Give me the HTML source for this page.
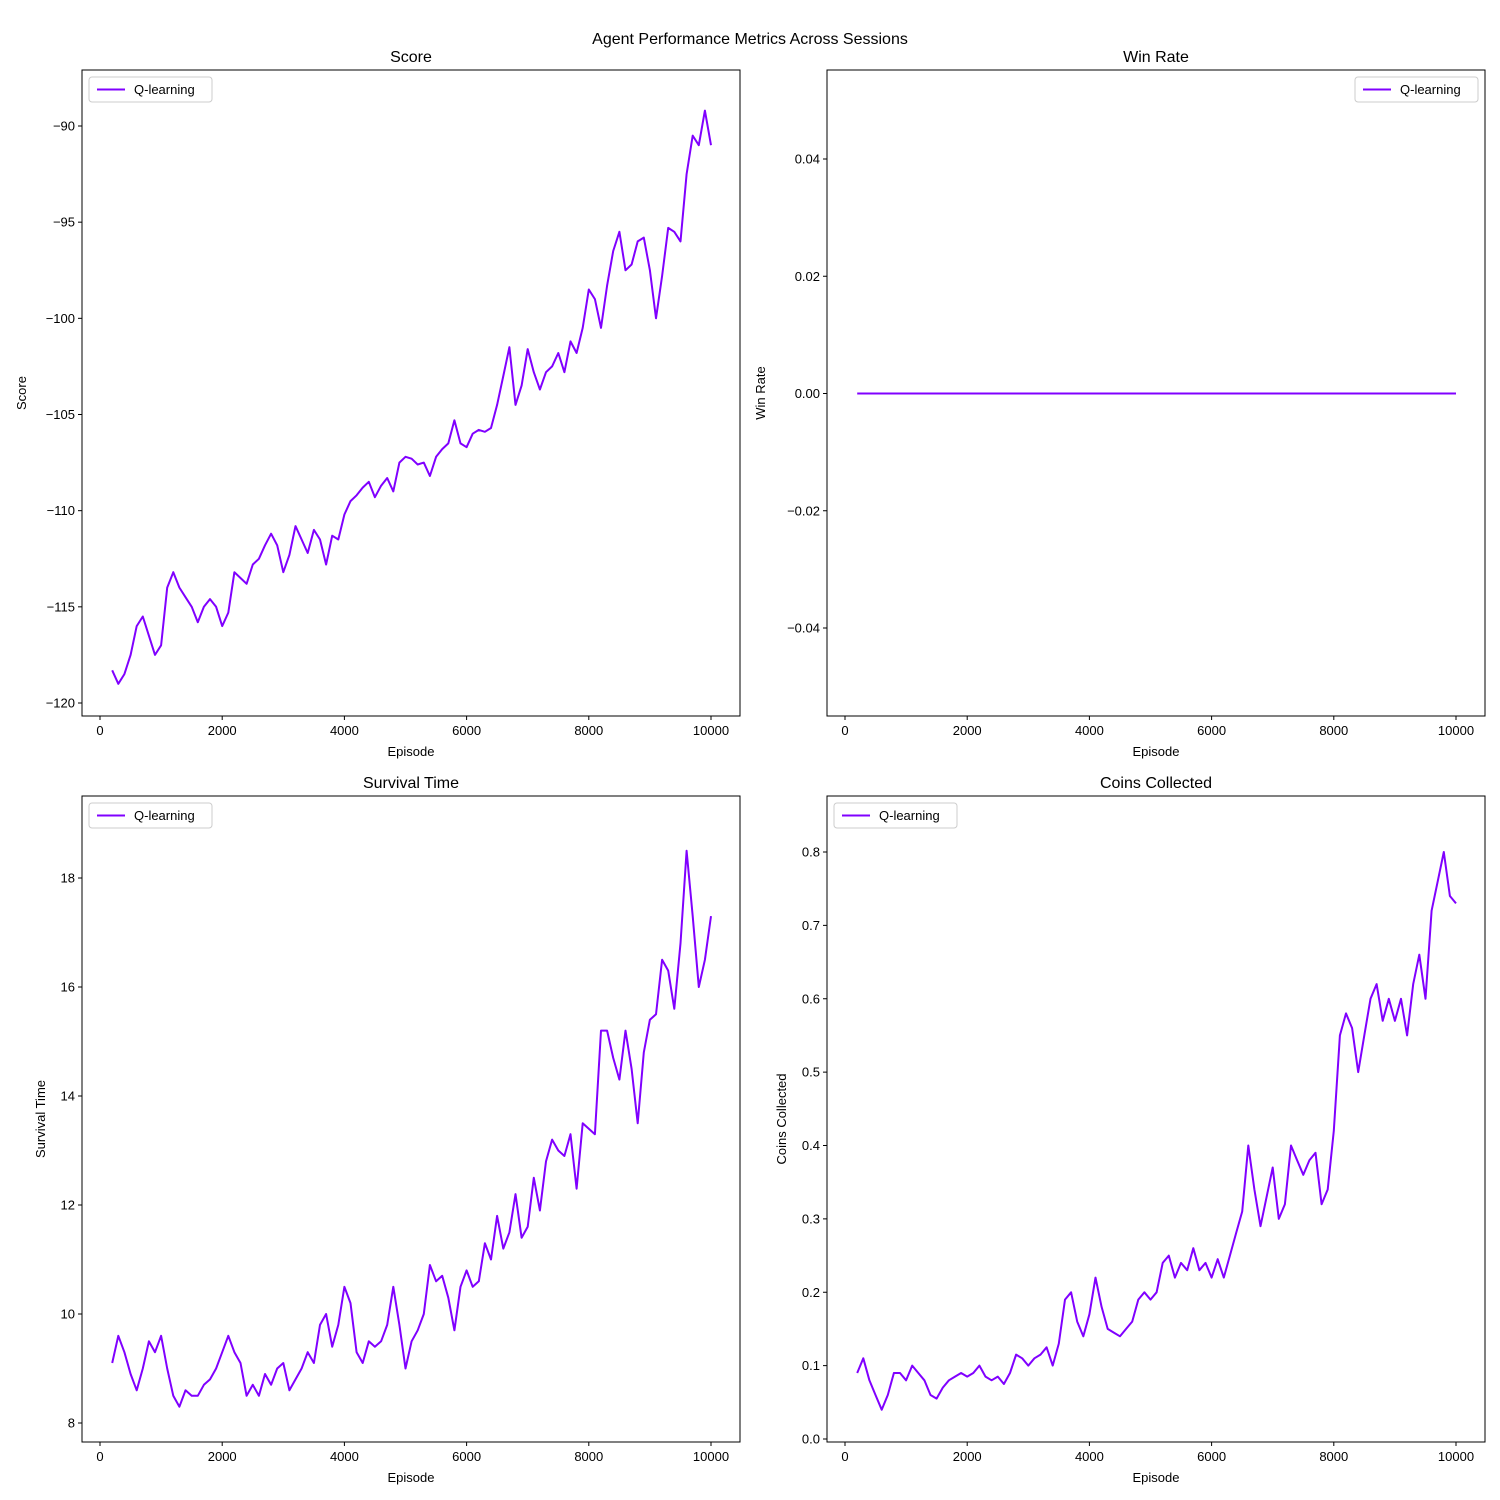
<!DOCTYPE html>
<html><head><meta charset="utf-8">
<style>
body{margin:0;background:#fff;}
svg{display:block;font-family:"Liberation Sans","DejaVu Sans",sans-serif;}
</style></head>
<body>
<svg id="fig" width="1500" height="1500" viewBox="0 0 1500 1500">
<rect width="1500" height="1500" fill="#fff"/>
<text x="750" y="44" text-anchor="middle" font-size="16">Agent Performance Metrics Across Sessions</text>
</svg>
<script>
const episodes = [200,300,400,500,600,700,800,900,1000,1100,1200,1300,1400,1500,1600,1700,1800,1900,2000,2100,2200,2300,2400,2500,2600,2700,2800,2900,3000,3100,3200,3300,3400,3500,3600,3700,3800,3900,4000,4100,4200,4300,4400,4500,4600,4700,4800,4900,5000,5100,5200,5300,5400,5500,5600,5700,5800,5900,6000,6100,6200,6300,6400,6500,6600,6700,6800,6900,7000,7100,7200,7300,7400,7500,7600,7700,7800,7900,8000,8100,8200,8300,8400,8500,8600,8700,8800,8900,9000,9100,9200,9300,9400,9500,9600,9700,9800,9900,10000];
const scoreValues = [-118.3,-119,-118.5,-117.5,-116,-115.5,-116.5,-117.5,-117,-114,-113.2,-114,-114.5,-115,-115.8,-115,-114.6,-115,-116,-115.3,-113.2,-113.5,-113.8,-112.8,-112.5,-111.8,-111.2,-111.8,-113.2,-112.3,-110.8,-111.5,-112.2,-111,-111.5,-112.8,-111.3,-111.5,-110.2,-109.5,-109.2,-108.8,-108.5,-109.3,-108.7,-108.3,-109,-107.5,-107.2,-107.3,-107.6,-107.5,-108.2,-107.2,-106.8,-106.5,-105.3,-106.5,-106.7,-106,-105.8,-105.9,-105.7,-104.5,-103,-101.5,-104.5,-103.5,-101.6,-102.8,-103.7,-102.8,-102.5,-101.8,-102.8,-101.2,-101.8,-100.5,-98.5,-99,-100.5,-98.3,-96.5,-95.5,-97.5,-97.2,-96,-95.8,-97.5,-100,-97.8,-95.3,-95.5,-96,-92.5,-90.5,-91,-89.2,-91];
const winEpisodes = [200,10000];
const winValues = [0,0];
const survivalValues = [9.1,9.6,9.3,8.9,8.6,9.0,9.5,9.3,9.6,9.0,8.5,8.3,8.6,8.5,8.5,8.7,8.8,9.0,9.3,9.6,9.3,9.1,8.5,8.7,8.5,8.9,8.7,9.0,9.1,8.6,8.8,9.0,9.3,9.1,9.8,10.0,9.4,9.8,10.5,10.2,9.3,9.1,9.5,9.4,9.5,9.8,10.5,9.8,9.0,9.5,9.7,10.0,10.9,10.6,10.7,10.3,9.7,10.5,10.8,10.5,10.6,11.3,11.0,11.8,11.2,11.5,12.2,11.4,11.6,12.5,11.9,12.8,13.2,13.0,12.9,13.3,12.3,13.5,13.4,13.3,15.2,15.2,14.7,14.3,15.2,14.5,13.5,14.8,15.4,15.5,16.5,16.3,15.6,16.8,18.5,17.3,16.0,16.5,17.3];
const coinValues = [0.09,0.11,0.08,0.06,0.04,0.06,0.09,0.09,0.08,0.10,0.09,0.08,0.06,0.055,0.07,0.08,0.085,0.09,0.085,0.09,0.1,0.085,0.08,0.085,0.075,0.09,0.115,0.11,0.10,0.11,0.115,0.125,0.10,0.13,0.19,0.20,0.16,0.14,0.17,0.22,0.18,0.15,0.145,0.14,0.15,0.16,0.19,0.20,0.19,0.20,0.24,0.25,0.22,0.24,0.23,0.26,0.23,0.24,0.22,0.245,0.22,0.25,0.28,0.31,0.40,0.34,0.29,0.33,0.37,0.30,0.32,0.40,0.38,0.36,0.38,0.39,0.32,0.34,0.42,0.55,0.58,0.56,0.50,0.55,0.60,0.62,0.57,0.60,0.57,0.60,0.55,0.62,0.66,0.60,0.72,0.76,0.80,0.74,0.73];
const xTicks = [0,2000,4000,6000,8000,10000];
const scoreTicks = [-120,-115,-110,-105,-100,-95,-90];
const winTicks = [-0.04,-0.02,0,0.02,0.04];
const survivalTicks = [8,10,12,14,16,18];
const coinTicks = [0,0.1,0.2,0.3,0.4,0.5,0.6,0.7,0.8];

const NS="http://www.w3.org/2000/svg";
const svg=document.getElementById('fig');
function mk(tag,attrs,parent){const e=document.createElementNS(NS,tag);for(const k in attrs)e.setAttribute(k,attrs[k]);(parent||svg).appendChild(e);return e;}

function panel(o){
  const g=mk('g',{});
  
  
  const X=v=>o.x0px+(v-0)*(o.x1px-o.x0px)/10000;
  const Y=v=>o.ya.px+(v-o.ya.v)*(o.yb.px-o.ya.px)/(o.yb.v-o.ya.v);
  const pts=o.xs.map((e,i)=>X(e).toFixed(1)+','+Y(o.ys[i]).toFixed(1)).join(' ');
  const line=mk('polyline',{points:pts,fill:'none',stroke:'#8000ff','stroke-width':2,'stroke-linejoin':'round'},g);
  
  
  const fr=mk('rect',{x:o.L,y:o.T,width:o.R-o.L,height:o.B-o.T,fill:'none',stroke:'#000','stroke-width':1},g);
  
  
  xTicks.forEach(t=>{
    const x=X(t);
    mk('line',{x1:x,x2:x,y1:o.B,y2:o.B+4,stroke:'#000'},g);
    const tx=mk('text',{x:x,y:o.B+19,'text-anchor':'middle','font-size':13},g);
    tx.textContent=t;
    
    
  });
  o.yticks.forEach(t=>{
    const y=Y(t);
    mk('line',{x1:o.L-4,x2:o.L,y1:y,y2:y,stroke:'#000'},g);
    const tx=mk('text',{x:o.L-7,y:y+4.5,'text-anchor':'end','font-size':13},g);
    tx.textContent=o.fmt(t);
    
    
  });
  const tt=mk('text',{x:(o.L+o.R)/2,y:o.T-8,'text-anchor':'middle','font-size':16},g);
  tt.textContent=o.title;
  
  
  const xl=mk('text',{x:(o.L+o.R)/2,y:o.B+40,'text-anchor':'middle','font-size':13},g);
  xl.textContent='Episode';
  
  
  const cy=(o.T+o.B)/2;
  const yl=mk('text',{x:o.ylx,y:cy,'text-anchor':'middle','font-size':13,transform:`rotate(-90 ${o.ylx} ${cy})`},g);
  yl.textContent=o.title;
  
  
  const lx=o.legRight?o.R-130:o.L+7, ly=o.T+7;
  const lg=mk('g',{},g);
  
  
  mk('rect',{x:lx,y:ly,width:123,height:25,rx:3,fill:'#fff',stroke:'#ccc'},lg);
  mk('line',{x1:lx+8,x2:lx+36,y1:ly+12.5,y2:ly+12.5,stroke:'#8000ff','stroke-width':2},lg);
  const lt=mk('text',{x:lx+45,y:ly+17,'font-size':13},lg);
  lt.textContent='Q-learning';
  
  
}
const f0=t=>(t<0?'\u2212':'')+Math.abs(t);
const f2=t=>(t<0?'\u2212':'')+Math.abs(t).toFixed(2);
const f1=t=>t.toFixed(1);
panel({name:'score',title:'Score',L:82,R:740,T:70,B:716,x0px:100,x1px:711,ya:{v:-90,px:126},yb:{v:-120,px:703},xs:episodes,ys:scoreValues,yticks:scoreTicks,fmt:f0,ylx:26});
panel({name:'win-rate',title:'Win Rate',L:827,R:1485,T:70,B:716,x0px:845,x1px:1456,ya:{v:0.04,px:159},yb:{v:-0.04,px:628},xs:winEpisodes,ys:winValues,yticks:winTicks,fmt:f2,ylx:765,legRight:true});
panel({name:'survival-time',title:'Survival Time',L:82,R:740,T:796,B:1442,x0px:100,x1px:711,ya:{v:18,px:878},yb:{v:8,px:1423},xs:episodes,ys:survivalValues,yticks:survivalTicks,fmt:f0,ylx:45});
panel({name:'coins-collected',title:'Coins Collected',L:827,R:1485,T:796,B:1442,x0px:845,x1px:1456,ya:{v:0.8,px:852},yb:{v:0,px:1439},xs:episodes,ys:coinValues,yticks:coinTicks,fmt:f1,ylx:786});
</script>
</body></html>
